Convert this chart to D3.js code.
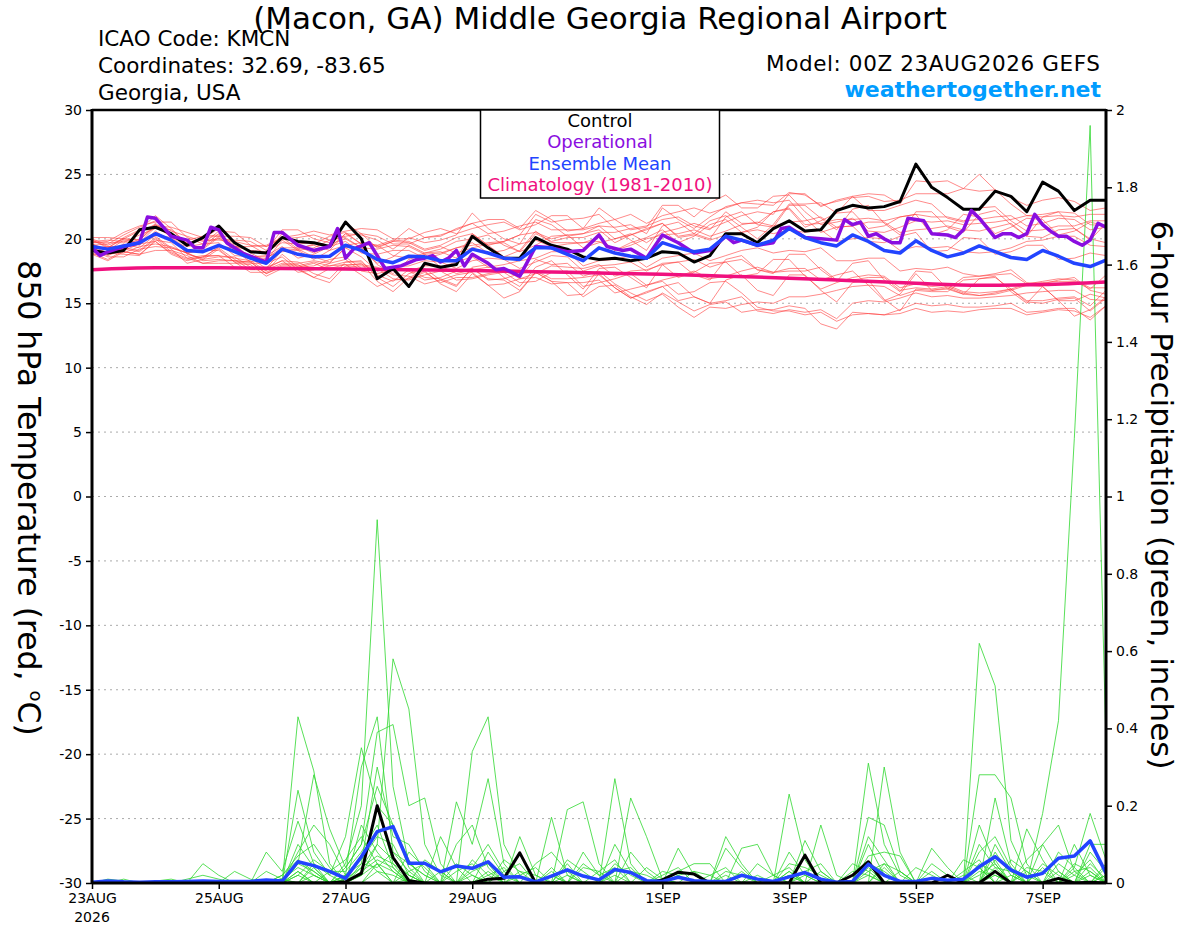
<html>
<head>
<style>
    body { margin: 0; background: white; }
    text { font-family: "DejaVu Sans", "Liberation Sans", Arial, sans-serif; }
    .axis text { font-size: 14px; fill: black; }
    .axis line { stroke: black; stroke-width: 1.5px; }
    .grid line { stroke: #aaaaaa; stroke-width: 1px; stroke-dasharray: 2 4; }
    .memberT { fill: none; stroke: #ff3b3b; stroke-width: 0.8px; opacity: 0.75; }
    .memberP { fill: none; stroke: #2fd82f; stroke-width: 0.8px; }
    .bold { fill: none; stroke-linejoin: round; stroke-linecap: round; }
</style>
</head>
<body>
<svg id="chart" width="1200" height="927"></svg>
<script src="https://d3js.org/d3.v7.min.js"></script>
<script>
// forecast hours of the 6-hourly ensemble output (00Z 23AUG2026 run)
const fHours = [0,6,12,18,24,30,36,42,48,54,60,66,72,78,84,90,96,102,108,114,120,126,132,138,144,150,156,162,
    168,174,180,186,192,198,204,210,216,222,228,234,240,246,252,258,264,270,276,282,288,294,300,306,312,318,324,
    330,336,342,348,354,360,366,372,378,384]

// axis ticks
const tempTicks = [-30,-25,-20,-15,-10,-5,0,5,10,15,20,25,30]
const precipTicks = [0,0.2,0.4,0.6,0.8,1,1.2,1.4,1.6,1.8,2]
const dateTicks = ["2026-08-23","2026-08-25","2026-08-27","2026-08-29","2026-09-01","2026-09-03","2026-09-05","2026-09-07"]
const dateLabels = ["23AUG","25AUG","27AUG","29AUG","1SEP","3SEP","5SEP","7SEP"]

// 850 hPa temperature (C)
const controlTemp = [19.1,18.9,19.1,20.7,20.9,20.4,19.5,20.1,21.0,19.7,19.0,18.9,20.1,19.8,19.7,19.4,21.3,20.0,16.9,17.7,
    16.3,18.1,17.8,18.0,20.2,19.3,18.5,18.5,20.1,19.5,19.2,18.6,18.4,18.5,18.3,18.5,19.0,18.9,18.2,18.7,20.4,20.4,19.7,
    20.8,21.4,20.6,20.7,22.2,22.6,22.4,22.5,22.9,25.8,24.0,23.2,22.3,22.3,23.7,23.3,22.1,24.4,23.7,22.2,23.0,23.0]
const meanTemp = [19.4,19.2,19.45,19.7,20.4,19.9,19.1,19.0,19.5,19.0,18.5,18.1,19.2,18.8,18.6,18.65,19.5,19.1,18.4,18.15,
    18.65,18.6,18.3,18.3,19.2,18.9,18.5,18.4,19.3,19.3,18.8,18.3,19.3,18.9,18.65,18.5,19.7,19.3,19.0,19.2,20.2,19.9,19.5,
    19.9,20.8,20.1,19.7,19.45,20.3,19.8,19.1,18.9,19.85,19.1,18.6,18.9,19.45,19.0,18.55,18.4,19.1,18.65,18.1,17.85,18.35]

// operational run, 3-hourly where the picture shows it
const opHours = [0,3,6,12,18,21,24,30,36,39,42,45,48,51,57,63,66,69,72,78,84,90,93,96,99,105,111,117,123,126,
    129,132,135,138,141,144,150,153,156,162,168,174,180,186,192,195,201,204,210,216,222,228,234,240,243,246,252,258,
    261,264,270,276,282,285,288,291,294,297,300,303,306,309,315,318,324,327,330,333,336,342,345,348,351,354,357,360,
    363,366,369,372,375,378,381,384]
const opTemp = [19.3,18.7,19.0,19.4,19.7,21.7,21.6,20.2,19.9,19.3,19.3,20.9,20.7,19.7,18.9,18.4,18.2,20.5,20.5,19.5,
    19.1,19.4,20.8,18.5,19.2,19.7,17.7,17.9,18.4,18.5,18.7,18.2,18.5,19.1,17.9,18.8,18.1,17.6,17.7,17.1,
    19.4,19.3,19.0,19.1,20.3,19.4,19.1,19.2,18.5,20.3,19.7,18.9,19.1,20.2,19.7,19.9,19.5,19.7,20.8,20.9,
    20.1,20.0,19.9,21.5,21.1,21.3,20.2,20.4,20.0,19.7,19.7,21.6,21.4,20.4,20.3,20.1,20.7,22.2,21.6,20.1,
    20.4,20.4,20.1,20.4,21.9,21.1,20.6,20.2,20.2,19.8,19.5,19.9,21.2,20.9]

// climatology (1981-2010), daily
const climHours = [0,24,48,72,96,120,144,168,192,216,240,264,288,312,336,360,384]
const climTemp = [17.6,17.75,17.75,17.7,17.65,17.6,17.55,17.45,17.35,17.25,17.1,16.95,16.75,16.55,16.4,16.45,16.65]

// ensemble members, temperature
const tMem01 = [19.7,19.7,19.7,20.3,20.8,20.7,19.6,19.3,20.2,19.4,19.1,19.0,19.7,19.6,19.7,19.3,20.4,20.3,19.9,19.2,20.1,19.7,19.9,20.3,
    22.0,20.8,20.0,19.6,21.5,21.1,20.2,20.4,21.0,20.9,21.1,20.4,22.4,21.5,20.8,21.7,22.5,22.8,22.7,22.6,23.6,23.4,22.6,22.9,
    23.2,23.3,22.9,23.0,23.5,23.5,23.5,23.9,25.0,23.8,23.2,22.6,23.0,23.2,22.9,22.2,22.4]
const tMem02 = [19.0,19.0,18.9,19.4,19.6,19.4,18.9,18.4,18.6,18.6,17.8,17.8,18.3,18.2,17.6,17.9,18.2,18.2,17.2,16.7,17.6,17.0,16.9,16.4,
    17.7,16.9,16.8,16.0,17.4,16.7,16.6,15.5,16.3,16.4,15.5,14.9,15.8,15.1,14.4,14.9,15.1,14.3,14.5,14.5,14.8,14.6,13.4,13.0,
    14.3,14.2,14.1,14.2,14.6,14.3,14.4,14.3,14.5,14.6,14.6,14.1,14.3,14.5,14.4,13.9,14.8]
const tMem03 = [20.0,19.5,20.0,20.6,21.1,20.1,19.7,19.9,19.9,19.8,19.5,18.8,20.4,19.4,18.9,19.6,20.0,19.3,18.1,18.6,19.5,18.9,19.2,19.8,
    20.0,20.3,19.5,19.0,20.4,19.8,20.1,20.1,20.5,20.5,20.8,21.0,21.5,21.7,21.0,20.7,22.1,21.2,21.2,22.1,22.4,21.1,21.2,21.5,
    21.5,21.6,21.4,21.7,21.9,21.7,21.7,21.4,21.5,21.7,21.8,21.0,21.2,21.6,21.5,20.7,20.9]
const tMem04 = [19.2,18.7,19.2,19.0,20.0,19.0,18.5,18.7,18.7,18.5,18.3,17.5,18.8,17.8,17.9,18.4,18.6,17.7,17.6,17.7,17.5,17.9,17.9,17.3,
    17.6,17.8,17.7,16.9,17.3,17.9,17.8,17.7,18.0,17.1,17.5,17.6,18.0,17.0,17.4,18.1,18.2,17.1,17.3,18.4,18.4,17.1,16.1,16.6,
    17.0,17.2,17.1,16.2,16.5,16.3,16.4,15.9,15.8,15.9,16.1,15.2,15.2,15.4,15.5,14.8,16.0]
const tMem05 = [19.5,19.6,20.3,20.9,21.4,20.6,20.2,19.8,20.0,19.9,19.8,19.1,20.7,20.7,20.0,19.7,21.2,20.4,19.3,19.8,20.8,20.1,20.2,20.8,
    21.2,21.5,21.5,20.8,22.2,21.5,20.6,20.8,22.4,21.5,20.7,20.9,22.6,22.6,21.7,22.8,23.4,22.4,22.4,23.3,23.4,22.1,21.1,21.3,
    21.6,20.6,20.5,20.9,21.4,21.3,21.4,21.1,21.2,21.3,21.5,21.8,21.7,21.8,21.7,21.9,21.9]
const tMem06 = [18.9,18.4,19.1,19.6,19.8,18.9,18.4,18.6,19.3,18.4,17.6,17.6,18.1,18.1,18.3,18.1,19.3,18.6,17.5,17.8,17.9,18.3,18.2,17.7,
    18.3,18.5,18.4,17.7,18.2,18.7,18.6,17.5,17.9,18.0,18.2,17.5,18.1,18.2,18.4,17.8,18.2,18.4,17.6,17.4,17.7,17.7,16.8,17.2,
    17.5,16.4,15.2,15.7,17.3,16.0,16.1,17.0,17.1,17.2,17.3,16.5,16.6,16.7,16.7,16.1,17.2]
const tMem07 = [19.6,19.1,19.9,19.7,20.9,20.2,18.9,19.2,20.1,19.1,18.2,18.5,19.3,19.3,19.5,19.1,19.5,19.7,19.5,18.7,18.5,18.9,19.0,18.5,
    20.4,19.5,18.6,19.1,20.6,19.7,19.7,19.7,19.8,19.1,19.5,20.0,20.3,20.4,20.7,20.2,20.6,21.1,21.3,21.0,21.3,21.4,21.7,20.9,
    21.0,21.3,21.3,20.5,20.7,20.8,21.0,20.7,20.6,20.9,21.2,20.2,20.1,20.7,20.8,20.0,19.7]
const tMem08 = [19.3,19.4,19.2,19.8,20.2,19.3,18.9,19.1,19.1,18.2,18.1,18.1,18.6,17.6,17.0,17.7,18.0,17.2,16.3,16.8,16.9,17.4,16.6,17.0,
    17.0,17.3,17.5,17.0,18.4,18.0,18.1,17.1,17.5,16.5,15.8,15.2,15.7,14.7,13.9,14.7,14.6,14.9,15.1,15.0,15.5,15.5,15.7,16.0,
    16.3,16.4,16.3,15.6,16.0,15.9,15.9,16.8,16.9,17.0,16.1,16.5,16.7,16.9,16.8,16.2,16.2]
const tMem09 = [19.8,19.9,19.8,19.5,20.6,19.8,19.4,19.6,19.7,18.7,18.6,18.6,19.0,19.1,19.3,19.9,20.1,19.3,19.2,19.5,19.4,18.8,18.9,19.3,
    19.5,19.7,19.8,20.3,20.5,20.0,20.3,20.4,20.7,19.7,20.3,20.8,21.2,20.2,20.4,21.4,21.8,20.9,20.0,21.1,22.7,22.7,22.8,22.0,
    23.3,22.2,22.2,22.6,23.0,22.7,21.6,21.3,22.4,22.5,21.4,20.6,20.7,21.0,21.0,21.4,21.4]
const tMem10 = [18.8,18.9,18.8,18.7,19.9,19.7,18.5,18.1,18.3,18.3,18.2,17.3,17.9,17.9,18.2,17.9,18.0,18.0,17.8,17.2,17.1,16.5,16.8,17.2,
    17.4,16.4,16.5,16.9,17.0,16.5,16.6,16.6,16.8,15.8,16.1,16.4,16.7,15.7,15.9,16.6,16.7,15.8,14.7,14.4,14.4,14.1,14.3,13.6,
    14.1,14.2,14.1,14.5,15.0,14.8,14.9,14.7,14.7,14.8,15.0,14.3,14.4,14.6,14.6,13.7,14.8]
const tMem11 = [19.9,19.3,20.1,20.7,21.8,20.8,19.6,20.0,20.8,19.8,18.9,18.3,19.9,19.1,18.4,19.1,20.4,19.6,19.4,19.8,19.7,19.1,19.4,18.9,
    19.3,19.6,19.7,19.0,19.5,20.2,20.3,19.3,19.7,20.0,20.4,19.7,20.5,20.8,21.2,20.8,21.3,21.8,22.1,21.9,23.5,23.5,22.5,23.0,
    23.3,23.5,23.4,22.7,24.5,24.4,24.5,23.9,23.7,23.8,22.7,21.8,21.9,22.1,22.0,21.1,21.0]
const tMem12 = [19.4,18.9,19.6,19.3,20.3,20.1,18.8,18.5,19.4,19.3,18.5,17.7,19.1,19.2,18.6,18.2,19.3,19.4,18.0,17.3,18.4,18.8,17.8,18.2,
    18.6,17.8,18.0,18.3,18.5,19.0,19.0,17.9,18.3,18.4,18.7,17.8,18.5,18.7,18.9,18.3,18.7,19.1,19.3,18.9,19.1,19.0,19.3,18.3,
    18.3,18.5,18.5,17.5,17.7,17.6,17.8,17.3,17.1,17.3,17.6,16.6,16.5,16.8,17.0,16.0,15.7]
const tMem13 = [19.7,19.8,20.5,21.0,21.3,21.3,20.1,19.6,20.6,20.5,19.5,19.4,20.0,20.1,20.3,19.9,20.2,20.4,20.2,19.6,19.6,20.1,20.3,20.7,
    21.2,20.4,20.6,21.0,21.3,20.7,20.7,20.7,21.0,20.0,20.3,20.7,21.2,20.1,20.3,19.9,20.3,20.5,20.7,20.4,20.7,20.5,20.7,19.8,
    20.0,20.1,20.0,19.1,19.4,19.3,19.4,19.0,18.9,19.0,19.3,19.8,19.9,20.2,20.2,19.5,19.4]
const tMem14 = [19.1,18.6,18.6,19.2,19.4,19.3,18.9,18.3,18.4,18.3,18.2,17.3,17.8,17.8,18.1,17.6,17.8,17.9,17.7,16.9,16.8,17.2,17.5,16.8,
    16.9,17.2,17.4,16.6,16.7,17.4,17.5,16.3,16.6,16.9,17.3,16.4,16.8,17.1,17.5,16.9,17.1,17.5,17.8,17.4,17.5,17.5,17.8,16.8,
    16.8,17.0,17.0,16.0,16.2,16.1,16.3,15.8,15.6,15.8,16.1,15.1,15.0,15.3,15.4,14.4,15.4]
const tMem15 = [19.2,19.3,20.0,19.9,21.1,20.3,19.1,19.4,20.4,19.5,18.6,18.7,19.4,18.5,18.8,19.4,19.8,18.9,18.8,19.1,19.1,18.5,18.8,19.3,
    19.7,18.9,19.1,19.6,19.9,19.4,19.6,19.7,20.1,19.1,19.7,20.1,20.7,19.7,20.2,21.1,21.5,20.5,20.9,22.1,22.3,20.9,21.4,22.0,
    22.1,20.8,21.0,21.7,21.9,20.3,20.7,21.9,21.7,20.4,20.9,21.6,21.5,20.3,20.6,21.3,21.0]
const tMem16 = [19.6,19.1,19.0,18.8,19.8,18.8,18.3,18.6,18.7,17.8,17.7,17.7,18.3,17.4,17.6,18.1,18.4,17.5,17.3,17.6,17.5,16.8,17.0,17.5,
    17.7,16.8,16.9,17.3,17.5,16.9,16.9,17.0,17.2,16.2,15.4,15.9,16.3,16.6,15.5,15.0,16.8,17.2,16.0,15.6,17.2,17.2,16.0,15.1,
    16.6,16.8,15.3,14.4,16.1,16.0,16.2,15.7,15.6,15.7,16.0,16.4,16.3,15.2,15.2,15.7,15.4]
const tMem17 = [20.1,20.1,20.0,19.9,21.0,20.9,20.5,20.1,20.2,20.2,20.1,19.4,20.1,20.3,20.6,20.3,20.6,20.8,20.7,20.0,20.0,20.5,20.8,20.4,
    20.8,21.1,21.3,20.7,21.1,21.8,21.8,20.8,21.2,21.5,21.9,21.2,21.8,22.1,22.4,22.0,22.4,22.8,23.0,22.8,23.0,21.6,20.5,20.9,
    21.0,19.8,19.7,20.2,20.5,19.0,19.1,20.1,20.0,18.8,19.0,19.5,19.5,18.4,18.5,18.9,18.7]
const tMem18 = [19.3,18.8,19.3,19.1,20.1,19.2,18.1,18.4,19.2,18.2,17.4,17.4,18.0,18.0,17.3,16.9,18.2,18.3,17.0,16.3,17.3,17.7,16.8,16.3,
    17.8,18.0,17.0,16.3,17.8,18.3,17.2,16.1,17.7,17.8,17.0,16.2,18.0,18.2,17.2,16.8,18.4,18.7,17.6,17.3,18.8,18.8,17.6,16.7,
    18.1,18.3,16.8,15.9,17.5,17.4,16.1,15.7,16.9,17.1,15.9,15.0,16.3,15.2,14.0,14.5,15.5]
const tMem19 = [19.9,19.4,19.4,20.0,21.2,20.3,19.9,20.2,20.3,19.4,19.4,19.5,20.1,19.2,19.6,20.2,20.5,19.6,19.5,19.9,19.8,19.2,19.5,20.1,
    20.4,19.5,19.8,20.3,21.9,21.3,21.5,21.6,21.9,20.8,19.9,19.1,21.0,21.3,20.4,20.0,21.7,22.1,21.1,20.9,22.6,22.6,21.6,20.7,
    22.3,22.6,21.2,20.3,22.1,22.1,20.9,20.5,21.9,22.2,21.1,20.2,21.7,22.1,20.8,19.9,21.2]
const tMem20 = [18.8,18.3,19.0,18.8,19.1,19.1,18.7,18.1,18.1,18.1,18.0,17.1,17.7,17.7,17.0,16.6,17.9,18.1,16.7,15.9,17.0,17.5,16.5,15.9,
    17.3,16.4,15.4,15.9,17.4,16.7,15.6,15.7,17.3,16.2,15.4,15.8,16.3,15.2,15.5,15.0,15.2,15.5,14.4,14.2,14.5,14.3,14.5,13.8,
    15.0,15.2,15.1,15.4,15.8,15.5,15.6,15.4,15.4,15.5,15.6,15.8,15.9,16.0,16.0,15.3,15.2]

// 6-hour precipitation (inches)
const controlPrecip = [0,0,0,0,0,0,0,0,0,0,0,0,0, 0,0,0,0.003,0.025,0.2,0.066,0.006,0,0,0,0,0.01,
    0.012,0.078,0,0,0,0,0,0,0,0,0.008,0.028,0.023, 0,0,0,0,0,0,0.072,0,0,0.02,0.055,0,0,
    0,0,0.02,0,0,0.03,0,0,0,0.012,0,0.002,0]
const meanPrecip = [0.002,0.005,0.003,0.002,0.003,0.003,0.004,0.005,0.004,0.004,0.004,0.008,0.005,
    0.055,0.045,0.03,0.012,0.068,0.133,0.146,0.051,0.051,0.029,0.044,0.038,0.055,
    0.015,0.016,0.003,0.018,0.034,0.018,0.008,0.035,0.027,0.006,0.004,0.015,0.006,
    0.004,0.004,0.02,0.01,0.004,0.016,0.027,0.01,0.002,0.004,0.049,0.02,0.004,
    0.004,0.012,0.007,0.01,0.042,0.068,0.034,0.015,0.025,0.064,0.07,0.109,0.025]

// ensemble members, precipitation
const pMem01 = [0,0,0,0,0,0,0,0,0,0,0,0,0.02, 0.06,0.03,0,0.05,0.2,0.94,0.25,0.05,0.02,0,0,0,0,
    0,0,0,0.02,0,0,0,0,0,0,0,0,0, 0,0,0,0,0,0,0,0,0,0,0,0,0, 0,0,0,0,0.02,0.05,0,0,0.18,0.42,1.15,1.96,0.36]
const pMem02 = [0,0,0,0,0,0,0,0,0,0,0,0,0, 0.43,0.29,0.05,0,0.02,0.1,0.58,0.45,0.1,0.02,0,0.03,0.05,
    0,0,0,0,0,0,0,0.27,0.05,0,0,0,0, 0,0.02,0,0,0,0.03,0,0,0,0,0.05,0,0, 0,0,0,0,0.62,0.51,0.11,0.02,0,0,0,0.05,0.01]
const pMem03 = [0,0,0,0,0,0,0,0,0,0,0,0,0, 0.24,0.08,0.02,0.12,0.35,0.2,0.15,0.04,0,0,0,0.34,0.43,
    0.1,0.02,0,0,0,0,0,0,0.22,0.12,0.01,0,0, 0,0,0,0,0,0,0,0,0,0,0.31,0.1,0.02, 0,0,0,0,0,0.1,0.03,0,0,0,0.04,0.18,0.06]
const pMem04 = [0,0,0,0,0,0,0,0,0,0,0,0.08,0.03, 0.16,0.05,0,0.02,0.3,0.43,0.08,0.03,0,0,0.21,0.1,0.27,
    0.05,0,0,0,0.19,0.21,0.05,0,0,0,0,0,0, 0,0,0,0,0,0.23,0.06,0,0,0,0,0.3,0.08, 0,0,0,0,0.28,0.28,0.22,0.05,0,0,0.1,0.02,0]
const pMem05 = [0,0,0,0,0,0,0,0.05,0.02,0,0,0,0, 0.05,0.28,0.14,0.04,0.1,0.39,0.41,0.2,0.22,0.05,0,0,0,
    0,0.12,0.02,0,0,0,0,0.1,0.03,0,0,0,0, 0,0.12,0.05,0,0,0,0,0,0,0,0.17,0.15,0.03, 0,0,0,0,0,0.22,0.05,0,0.1,0.15,0.03,0,0]
const pMem06 = [0,0,0,0,0,0,0,0,0,0.03,0.01,0,0, 0.08,0.15,0.1,0.02,0.05,0.3,0.12,0.1,0.03,0,0.1,0.15,0.04,
    0,0,0,0.17,0.02,0,0,0,0,0,0,0.09,0.02, 0,0,0.09,0.1,0.02,0,0,0.15,0.02,0,0,0,0, 0,0,0,0,0.15,0.05,0,0.14,0.06,0,0,0.1,0.1]
const pMem07 = [0,0.01,0.005,0,0,0,0,0,0,0,0,0,0.01, 0.04,0.02,0,0,0.02,0.2,0.05,0.02,0,0.12,0.04,0,0,
    0.03,0.05,0,0,0,0.05,0.02,0.04,0,0,0,0.03,0.05, 0.05,0,0,0,0,0,0.11,0.03,0,0,0.07,0.08,0.07, 0,0.09,0.04,0,0,0,0.06,0.03,0,0,0,0,0.04]
const pMem08 = [0,0,0,0,0,0,0,0,0,0,0,0,0, 0.02,0.06,0.03,0.03,0.08,0.15,0.04,0,0,0,0,0,0.08,
    0.02,0,0,0,0.06,0.03,0,0,0.08,0.03,0,0,0, 0,0,0,0,0,0.08,0.02,0,0,0,0.1,0.02,0, 0,0,0,0.06,0.04,0,0,0.06,0.1,0.03,0,0,0]
const pMem09 = [0,0,0,0,0.005,0.01,0,0,0,0,0,0.03,0.01, 0,0.02,0,0.01,0.04,0.1,0.06,0.02,0,0,0,0,0,
    0,0,0.05,0.08,0.03,0,0,0,0,0,0,0,0, 0,0.09,0.04,0,0,0,0,0,0,0.05,0.03,0,0, 0,0.05,0.02,0,0.08,0.12,0.04,0,0,0,0.02,0.06,0]
const pMem10 = [0,0,0,0,0,0,0,0,0,0,0,0,0, 0.1,0.04,0,0,0.15,0.08,0.03,0,0.06,0.03,0,0.06,0.02,
    0,0,0,0,0,0,0.03,0.06,0,0,0.02,0.04,0, 0,0,0,0,0,0.05,0.04,0.02,0,0,0,0.05,0.03, 0,0,0,0,0,0.08,0.02,0,0,0.08,0.04,0,0]
const pMem11 = [0,0,0,0,0,0,0.01,0.02,0.01,0,0,0,0, 0,0,0.03,0.06,0.12,0.05,0,0.08,0.04,0,0,0,0,
    0.06,0.03,0,0.04,0,0,0,0,0,0.04,0.01,0,0, 0,0,0,0.05,0.02,0,0,0,0,0,0.12,0.06,0, 0,0,0,0,0.1,0.04,0,0,0,0,0,0.08,0.03]
const pMem12 = [0,0,0,0,0,0,0,0,0,0,0,0,0, 0.03,0,0,0.02,0.06,0.12,0.1,0.02,0,0,0.05,0.02,0,
    0,0,0,0,0,0.08,0.02,0,0,0,0,0,0.03, 0.02,0,0,0,0,0.03,0,0,0,0,0,0,0, 0.04,0.02,0,0,0,0.06,0,0.04,0.03,0,0,0,0.02]
const pMem13 = [0,0,0,0,0,0,0,0,0,0,0,0,0.02, 0.07,0.1,0.04,0,0.03,0.06,0.04,0,0,0,0,0.04,0.1,
    0.03,0,0,0,0,0,0,0.03,0.04,0,0,0,0, 0,0.03,0.02,0,0,0,0,0,0,0,0.04,0,0, 0,0,0,0,0.05,0.03,0,0,0,0,0.03,0.04,0]
const pMem14 = [0,0,0,0,0,0,0,0,0,0,0,0,0, 0,0,0,0.04,0.1,0.25,0.15,0.06,0,0.03,0,0,0,
    0,0.02,0.04,0,0.05,0,0,0,0,0,0.03,0.02,0, 0,0,0,0,0,0,0.03,0.05,0,0,0,0.04,0, 0,0,0,0.03,0.06,0,0,0,0.05,0.02,0,0,0]
const pMem15 = [0,0,0.01,0,0,0,0,0,0,0,0,0,0, 0.05,0.03,0,0,0.05,0.04,0.08,0.05,0.02,0,0,0,0,
    0,0,0,0.03,0,0,0,0.05,0.02,0,0,0,0, 0,0,0.03,0,0,0.02,0,0,0,0,0.05,0.03,0, 0,0,0,0,0,0.04,0.03,0,0,0,0,0.03,0]
const pMem16 = [0,0,0,0,0,0,0,0,0,0,0,0,0, 0.06,0.02,0,0,0,0.05,0.03,0,0,0,0.03,0.05,0,
    0,0,0,0,0,0.04,0.03,0,0,0,0,0,0, 0.02,0.04,0,0,0,0,0,0,0,0.03,0.02,0,0, 0,0,0,0,0.04,0,0,0,0,0.05,0.02,0,0]
const pMem17 = [0,0,0,0,0,0,0,0,0,0,0,0,0.01, 0,0.04,0,0.02,0.07,0.03,0,0.03,0.05,0,0,0,0.02,
    0.04,0,0,0,0,0,0,0,0.03,0.02,0,0,0, 0,0,0,0,0.02,0.04,0,0,0,0,0,0,0.03, 0,0.03,0,0,0,0.02,0,0.03,0,0,0,0,0.05]
const pMem18 = [0,0,0,0,0,0,0,0,0,0,0,0,0, 0.02,0,0,0,0.04,0.07,0.05,0,0,0,0,0,0,
    0,0.03,0.02,0,0,0,0,0,0,0,0,0.02,0.03, 0,0,0,0,0,0,0.02,0,0,0,0.03,0.05,0, 0,0,0,0,0.03,0.02,0,0,0.04,0,0,0.02,0]
const pMem19 = [0,0,0,0,0,0,0,0,0.005,0,0,0,0, 0,0.05,0.02,0,0,0.03,0.02,0,0,0,0,0.02,0,
    0,0,0,0,0.02,0,0,0.02,0,0,0,0,0, 0,0,0,0.02,0,0,0,0.03,0,0,0,0,0, 0,0,0.02,0,0,0,0.02,0,0,0,0.05,0.03,0]
const pMem20 = [0,0,0,0,0,0,0,0,0,0,0,0,0, 0.03,0,0,0.01,0.02,0.05,0,0.01,0,0,0,0,0.03,
    0,0,0,0.02,0,0,0,0,0,0,0.01,0,0, 0,0,0,0,0,0.02,0,0,0,0,0.02,0,0, 0,0,0,0.02,0,0,0,0,0,0.03,0,0,0.02]

const tempMembers = [tMem01,tMem02,tMem03,tMem04,tMem05,tMem06,tMem07,tMem08,tMem09,tMem10,
    tMem11,tMem12,tMem13,tMem14,tMem15,tMem16,tMem17,tMem18,tMem19,tMem20]
const precipMembers = [pMem01,pMem02,pMem03,pMem04,pMem05,pMem06,pMem07,pMem08,pMem09,pMem10,
    pMem11,pMem12,pMem13,pMem14,pMem15,pMem16,pMem17,pMem18,pMem19,pMem20]

// ---- layout
let svg = d3.select("#chart")
const plotLeft = 92, plotRight = 1106, plotTop = 110, plotBottom = 883
const runStart = Date.UTC(2026, 7, 23)
const toDate = h => new Date(runStart + h * 3600 * 1000)

let xScale = d3.scaleUtc()
    .domain([toDate(0), toDate(384)])
    .range([plotLeft, plotRight])
let tempScale = d3.scaleLinear()
    .domain([-30, 30])
    .range([plotBottom, plotTop])
let precipScale = d3.scaleLinear()
    .domain([0, 2])
    .range([plotBottom, plotTop])

svg.append("rect").attr("width", 1200).attr("height", 927).attr("fill", "white")

svg.append("clipPath").attr("id", "plotClip")
    .append("rect")
    .attr("x", plotLeft).attr("y", plotTop)
    .attr("width", plotRight - plotLeft).attr("height", plotBottom - plotTop)

// dotted horizontal grid at the temperature ticks
svg.append("g")
    .attr("class", "grid")
    .selectAll("line")
    .data(tempTicks.filter(d => d > -30 && d < 30))
    .join("line")
    .attr("x1", plotLeft).attr("x2", plotRight)
    .attr("y1", d => tempScale(d)).attr("y2", d => tempScale(d))

let plot = svg.append("g").attr("clip-path", "url(#plotClip)")

let tempLine = d3.line()
    .x((d, i) => xScale(toDate(fHours[i])))
    .y(d => tempScale(d))
let precipLine = d3.line()
    .x((d, i) => xScale(toDate(fHours[i])))
    .y(d => precipScale(d))

// members
plot.append("g").selectAll("path")
    .data(tempMembers)
    .join("path")
    .attr("class", "memberT")
    .attr("d", tempLine)
plot.append("g").selectAll("path")
    .data(precipMembers)
    .join("path")
    .attr("class", "memberP")
    .attr("d", precipLine)

// climatology
let climLine = d3.line()
    .curve(d3.curveMonotoneX)
    .x((d, i) => xScale(toDate(climHours[i])))
    .y(d => tempScale(d))
plot.append("path")
    .datum(climTemp)
    .attr("class", "bold")
    .attr("d", climLine)
    .attr("stroke", "#f0107e")
    .attr("stroke-width", 3.5)

// control
plot.append("path")
    .datum(controlTemp)
    .attr("class", "bold")
    .attr("d", tempLine)
    .attr("stroke", "black")
    .attr("stroke-width", 3)
plot.append("path")
    .datum(controlPrecip)
    .attr("class", "bold")
    .attr("d", precipLine)
    .attr("stroke", "black")
    .attr("stroke-width", 3)

// operational
let opLine = d3.line()
    .x((d, i) => xScale(toDate(opHours[i])))
    .y(d => tempScale(d))
plot.append("path")
    .datum(opTemp)
    .attr("class", "bold")
    .attr("d", opLine)
    .attr("stroke", "#8a0ee0")
    .attr("stroke-width", 3.5)

// ensemble mean
plot.append("path")
    .datum(meanTemp)
    .attr("class", "bold")
    .attr("d", tempLine)
    .attr("stroke", "#2244ff")
    .attr("stroke-width", 3.5)
plot.append("path")
    .datum(meanPrecip)
    .attr("class", "bold")
    .attr("d", precipLine)
    .attr("stroke", "#2244ff")
    .attr("stroke-width", 3.5)

// ---- axes
svg.append("g")
    .attr("class", "axis")
    .attr("transform", "translate(" + plotLeft + ",0)")
    .call(d3.axisLeft(tempScale).tickValues(tempTicks).tickFormat(d => String(d))
        .tickSize(6).tickSizeOuter(0).tickPadding(4))
svg.append("g")
    .attr("class", "axis")
    .attr("transform", "translate(" + plotRight + ",0)")
    .call(d3.axisRight(precipScale).tickValues(precipTicks).tickFormat(d => String(+d.toFixed(1)))
        .tickSize(6).tickSizeOuter(0).tickPadding(4))
svg.append("g")
    .attr("class", "axis")
    .attr("transform", "translate(0," + plotBottom + ")")
    .call(d3.axisBottom(xScale)
        .tickValues(dateTicks.map(d => new Date(d + "T00:00:00Z")))
        .tickFormat((d, i) => dateLabels[i])
        .tickSize(6).tickSizeOuter(0).tickPadding(4))
svg.selectAll(".axis path.domain").remove()
svg.selectAll(".axis text").style("font-size", "14px")

svg.append("text")
    .attr("x", xScale(toDate(0)))
    .attr("y", 922)
    .attr("text-anchor", "middle")
    .style("font-size", "14px")
    .text("2026")

// plot frame
let frame = svg.append("g").attr("stroke", "black").attr("fill", "none")
frame.append("line").attr("x1", plotLeft).attr("x2", plotRight).attr("y1", plotTop).attr("y2", plotTop).attr("stroke-width", 2.5)
frame.append("line").attr("x1", plotLeft).attr("x2", plotRight).attr("y1", plotBottom).attr("y2", plotBottom).attr("stroke-width", 3)
frame.append("line").attr("x1", plotLeft).attr("x2", plotLeft).attr("y1", plotTop - 1).attr("y2", plotBottom + 1).attr("stroke-width", 3)
frame.append("line").attr("x1", plotRight).attr("x2", plotRight).attr("y1", plotTop - 1).attr("y2", plotBottom + 1).attr("stroke-width", 3)

// ---- legend box
svg.append("rect")
    .attr("x", 480.5).attr("y", 110)
    .attr("width", 239).attr("height", 88)
    .attr("fill", "white")
    .attr("stroke", "black")
    .attr("stroke-width", 1.5)
const legendNames = ["Control", "Operational", "Ensemble Mean", "Climatology (1981-2010)"]
const legendColors = ["black", "#8a0ee0", "#2244ff", "#f0107e"]
svg.append("g").selectAll("text")
    .data(legendNames)
    .join("text")
    .attr("x", 600)
    .attr("y", (d, i) => 127 + i * 21.4)
    .attr("text-anchor", "middle")
    .style("font-size", "18px")
    .attr("fill", (d, i) => legendColors[i])
    .text(d => d)

// ---- titles
svg.append("text")
    .attr("x", 600).attr("y", 29)
    .attr("text-anchor", "middle")
    .style("font-size", "31px")
    .text("(Macon, GA) Middle Georgia Regional Airport")

const infoLines = ["ICAO Code: KMCN", "Coordinates: 32.69, -83.65", "Georgia, USA"]
svg.append("g").selectAll("text")
    .data(infoLines)
    .join("text")
    .attr("x", 98)
    .attr("y", (d, i) => 46 + i * 27)
    .style("font-size", "21.5px")
    .text(d => d)

svg.append("text")
    .attr("x", 1100).attr("y", 71)
    .attr("text-anchor", "end")
    .attr("textLength", 334)
    .attr("lengthAdjust", "spacing")
    .style("font-size", "21.5px")
    .text("Model: 00Z 23AUG2026 GEFS")
svg.append("text")
    .attr("x", 1101).attr("y", 97)
    .attr("text-anchor", "end")
    .style("font-size", "22px")
    .style("font-weight", "bold")
    .attr("fill", "#009cff")
    .text("weathertogether.net")

// rotated axis titles
let leftTitle = svg.append("text")
    .attr("transform", "translate(18,498) rotate(90)")
    .attr("text-anchor", "middle")
    .style("font-size", "31.5px")
leftTitle.append("tspan").text("850 hPa Temperature (red, ")
leftTitle.append("tspan").attr("dy", -12).style("font-size", "18px").text("o")
leftTitle.append("tspan").attr("dy", 12).text("C)")

svg.append("text")
    .attr("transform", "translate(1151,495) rotate(90)")
    .attr("text-anchor", "middle")
    .style("font-size", "31px")
    .text("6-hour Precipitation (green, inches)")
</script>
</body>
</html>
